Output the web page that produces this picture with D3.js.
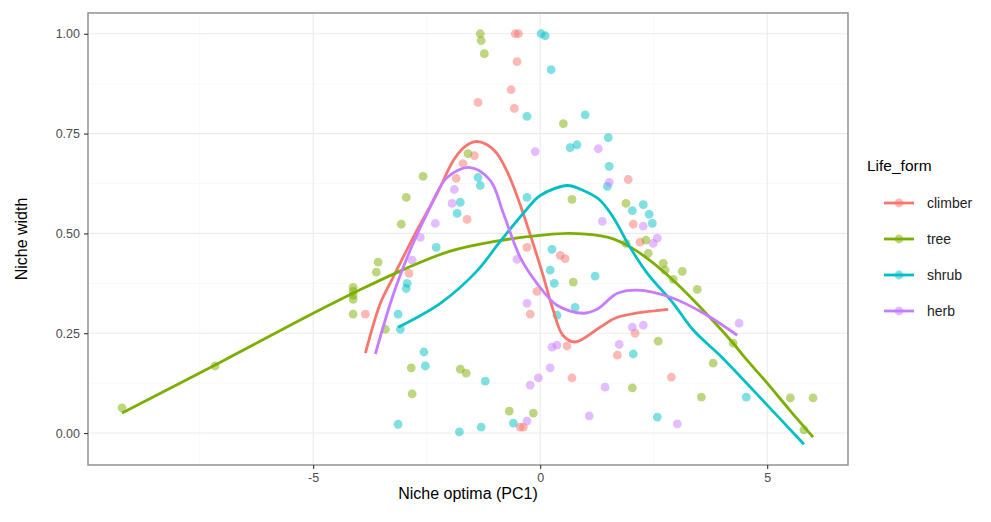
<!DOCTYPE html>
<html>
  <head>
    <meta charset="utf-8">
    <title>Niche width vs niche optima</title>
    <script src="https://d3js.org/d3.v7.min.js"></script>
  </head>
  <style>
    body { margin: 0; background: #fff; }
    svg { font-family: "Liberation Sans", Arial, sans-serif; }
    .grid-major { stroke: #ebebeb; stroke-width: 1.1; }
    .grid-minor { stroke: #f4f4f4; stroke-width: 0.6; }
    .tick-label { fill: #4d4d4d; font-size: 12.5px; }
    .smooth { fill: none; stroke-width: 2.8; }
  </style>
  <body>
    <script type="text/javascript">
        var width = 991;
        var height = 522;

        // life forms and their ggplot colours
        const lifeForms = ['climber', 'tree', 'shrub', 'herb'];
        const colors = ['#F8766D', '#7CAE00', '#00BFC4', '#C77CFF'];

        const xTicks = [-5, 0, 5];
        const yTicks = [0, 0.25, 0.5, 0.75, 1];

        // points [niche optima, niche width]
        const climberPts = [[-0.48,1.0],[-0.55,1.0],[-0.51,0.93],[-0.64,0.86],[-0.57,0.813],[-1.37,0.828],
          [-1.45,0.695],[-1.70,0.675],[-1.61,0.535],[-1.85,0.638],[-3.85,0.298],[-2.89,0.40],[-0.29,0.465],
          [-0.22,0.298],[-0.07,0.355],[0.44,0.445],[0.55,0.437],[0.59,0.218],[0.70,0.138],[-0.44,0.015],
          [-0.37,0.015],[1.70,0.195],[2.09,0.25],[1.94,0.635],[2.05,0.523],[2.20,0.478],[2.89,0.14]];
        const treePts = [[-9.21,0.063],[-7.16,0.168],[-4.12,0.365],[-4.12,0.355],[-4.12,0.345],[-4.12,0.335],
          [-4.12,0.298],[-3.57,0.428],[-3.61,0.403],[-1.32,1.0],[-1.30,0.983],[-1.23,0.95],[0.51,0.775],
          [-2.58,0.643],[-2.95,0.59],[-3.06,0.523],[-1.59,0.70],[0.70,0.585],[1.89,0.575],[-2.84,0.163],
          [-2.82,0.098],[-1.76,0.16],[-1.63,0.15],[-0.68,0.055],[-0.15,0.05],[0.73,0.378],[2.03,0.113],
          [2.60,0.23],[3.55,0.09],[3.81,0.175],[4.25,0.225],[5.51,0.088],[6.01,0.088],[5.81,0.008],
          [2.38,0.45],[2.71,0.425],[2.75,0.408],[3.13,0.405],[3.46,0.36],[2.93,0.385],[2.33,0.483],
          [1.89,0.475],[-3.41,0.26]];
        const shrubPts = [[0.02,1.0],[0.11,0.995],[0.24,0.91],[-0.29,0.793],[0.99,0.797],[1.50,0.74],
          [0.66,0.715],[0.81,0.722],[1.52,0.668],[1.48,0.618],[-1.37,0.64],[-1.32,0.62],[-1.76,0.578],
          [-1.83,0.55],[-2.29,0.465],[-2.93,0.375],[-2.95,0.362],[-3.13,0.298],[-3.08,0.26],[-2.56,0.203],
          [-2.53,0.168],[-3.13,0.022],[-1.78,0.003],[-1.30,0.015],[-1.21,0.13],[-0.59,0.025],[0.26,0.46],
          [0.22,0.408],[0.31,0.375],[1.21,0.393],[0.37,0.295],[2.05,0.198],[2.03,0.557],[2.27,0.572],
          [2.40,0.548],[2.47,0.525],[2.58,0.04],[4.54,0.09],[0.77,0.315],[-0.29,0.59]];
        const herbPts = [[-0.11,0.705],[1.28,0.712],[1.37,0.53],[-1.89,0.61],[-1.94,0.575],[-2.31,0.525],
          [-2.64,0.49],[2.27,0.518],[-2.82,0.433],[-0.51,0.435],[-0.29,0.325],[0.26,0.215],[0.37,0.22],
          [0.22,0.163],[-0.04,0.138],[-0.22,0.12],[-0.29,0.03],[1.08,0.043],[1.43,0.115],[1.74,0.222],
          [2.03,0.265],[2.27,0.27],[3.02,0.023],[4.38,0.275],[1.52,0.628],[2.58,0.488],[2.49,0.475]];

        // loess smooth curves
        const climberFit = [[-3.85,0.20],[-3.52,0.325],[-3.24,0.39],[-2.75,0.50],[-2.27,0.60],[-1.9,0.685],
          [-1.65,0.718],[-1.43,0.73],[-1.2,0.724],[-0.95,0.70],[-0.7,0.648],[-0.45,0.575],[-0.2,0.49],
          [0.05,0.40],[0.28,0.31],[0.5,0.245],[0.77,0.228],[1.32,0.265],[1.70,0.29],[2.82,0.31]];
        const treeFit = [[-9.21,0.05],[-7.0,0.18],[-5.0,0.30],[-4.0,0.357],[-3.0,0.41],[-2.0,0.455],
          [-1.0,0.48],[0.0,0.495],[0.66,0.50],[1.5,0.49],[2.0,0.465],[2.5,0.425],[3.0,0.375],[3.5,0.318],
          [4.25,0.225],[4.5,0.19],[5.0,0.125],[5.5,0.057],[6.01,-0.01]];
        const shrubFit = [[-3.13,0.265],[-2.2,0.325],[-1.4,0.405],[-0.88,0.48],[-0.3,0.56],[0.0,0.595],
          [0.6,0.62],[0.9,0.61],[1.3,0.585],[1.61,0.54],[1.98,0.465],[2.36,0.40],[2.93,0.325],
          [3.37,0.258],[4.0,0.19],[5.0,0.07],[5.81,-0.028]];
        const herbFit = [[-3.63,0.198],[-3.3,0.325],[-3.1,0.39],[-2.8,0.475],[-2.49,0.55],[-2.05,0.64],
          [-1.54,0.665],[-1.1,0.633],[-0.81,0.55],[-0.44,0.44],[-0.07,0.375],[0.37,0.32],[0.95,0.30],
          [1.25,0.31],[1.7,0.35],[2.14,0.358],[2.87,0.34],[3.6,0.30],[4.34,0.245]];

        const points = [climberPts, treePts, shrubPts, herbPts];
        const fits = [climberFit, treeFit, shrubFit, herbFit];

        const panel = {left: 88, right: 848, top: 13, bottom: 465};

        const svg = d3.select('body').append('svg').attr('width', width).attr('height', height);
        const x = d3.scaleLinear().domain([-9.96, 6.78]).range([panel.left, panel.right]);
        const y = d3.scaleLinear().domain([-0.08, 1.052]).range([panel.bottom, panel.top]);

        // grid
        const gGrid = svg.append('g');
        const xMinor = [-7.5, -2.5, 2.5];
        const yMinor = [0.125, 0.375, 0.625, 0.875];
        gGrid.selectAll('.xm').data(xMinor).enter().append('line').attr('class', 'grid-minor')
          .attr('x1', d => x(d)).attr('x2', d => x(d)).attr('y1', panel.top).attr('y2', panel.bottom);
        gGrid.selectAll('.ym').data(yMinor).enter().append('line').attr('class', 'grid-minor')
          .attr('x1', panel.left).attr('x2', panel.right).attr('y1', d => y(d)).attr('y2', d => y(d));
        gGrid.selectAll('.xM').data(xTicks).enter().append('line').attr('class', 'grid-major')
          .attr('x1', d => x(d)).attr('x2', d => x(d)).attr('y1', panel.top).attr('y2', panel.bottom);
        gGrid.selectAll('.yM').data(yTicks).enter().append('line').attr('class', 'grid-major')
          .attr('x1', panel.left).attr('x2', panel.right).attr('y1', d => y(d)).attr('y2', d => y(d));

        // points
        const gPts = svg.append('g');
        points.forEach((pts, i) => {
          gPts.selectAll(null).data(pts).enter().append('circle')
            .attr('cx', d => x(d[0])).attr('cy', d => y(d[1])).attr('r', 4.4)
            .attr('fill', colors[i]).attr('fill-opacity', 0.5);
        });

        // smooth lines
        const line = d3.line().x(d => x(d[0])).y(d => y(d[1])).curve(d3.curveCatmullRom.alpha(0.5));
        const gLines = svg.append('g');
        fits.forEach((f, i) => {
          gLines.append('path').attr('class', 'smooth').attr('stroke', colors[i]).attr('d', line(f));
        });

        // panel border
        svg.append('rect').attr('x', panel.left).attr('y', panel.top)
          .attr('width', panel.right - panel.left).attr('height', panel.bottom - panel.top)
          .attr('fill', 'none').attr('stroke', '#8a8a8a').attr('stroke-width', 1.4);

        // axes
        const xAxis = svg.append('g').attr('transform', `translate(0,${panel.bottom})`)
          .call(d3.axisBottom(x).tickValues(xTicks).tickSize(4).tickPadding(4).tickFormat(d3.format('d')));
        const yAxis = svg.append('g').attr('transform', `translate(${panel.left},0)`)
          .call(d3.axisLeft(y).tickValues(yTicks).tickSize(4).tickPadding(4).tickFormat(d3.format('.2f')));
        [xAxis, yAxis].forEach(a => {
          a.select('.domain').remove();
          a.selectAll('.tick line').attr('stroke', '#333').attr('stroke-width', 1.1);
          a.selectAll('.tick text').attr('class', 'tick-label').attr('font-family', null).attr('font-size', null);
        });
        xAxis.selectAll('.tick text').text(d => d < 0 ? '-' + Math.abs(d) : d);

        // axis titles
        svg.append('text').attr('x', (panel.left + panel.right) / 2).attr('y', 499)
          .attr('text-anchor', 'middle').attr('font-size', 16).attr('fill', '#000').text('Niche optima (PC1)');
        svg.append('text').attr('transform', `translate(27,${(panel.top + panel.bottom) / 2}) rotate(-90)`)
          .attr('text-anchor', 'middle').attr('font-size', 16).attr('fill', '#000').text('Niche width');

        // legend
        const gLeg = svg.append('g');
        gLeg.append('text').attr('x', 867).attr('y', 171).attr('font-size', 15.5).attr('fill', '#000').text('Life_form');
        lifeForms.forEach((lf, i) => {
          const cy = 203 + i * 36;
          gLeg.append('line').attr('x1', 884).attr('x2', 914).attr('y1', cy).attr('y2', cy)
            .attr('stroke', colors[i]).attr('stroke-width', 2.8);
          gLeg.append('circle').attr('cx', 899).attr('cy', cy).attr('r', 4.4)
            .attr('fill', colors[i]).attr('fill-opacity', 0.5);
          gLeg.append('text').attr('x', 927).attr('y', cy + 5).attr('font-size', 14).attr('fill', '#222').text(lf);
        });
      </script>
  </body>
</html>
